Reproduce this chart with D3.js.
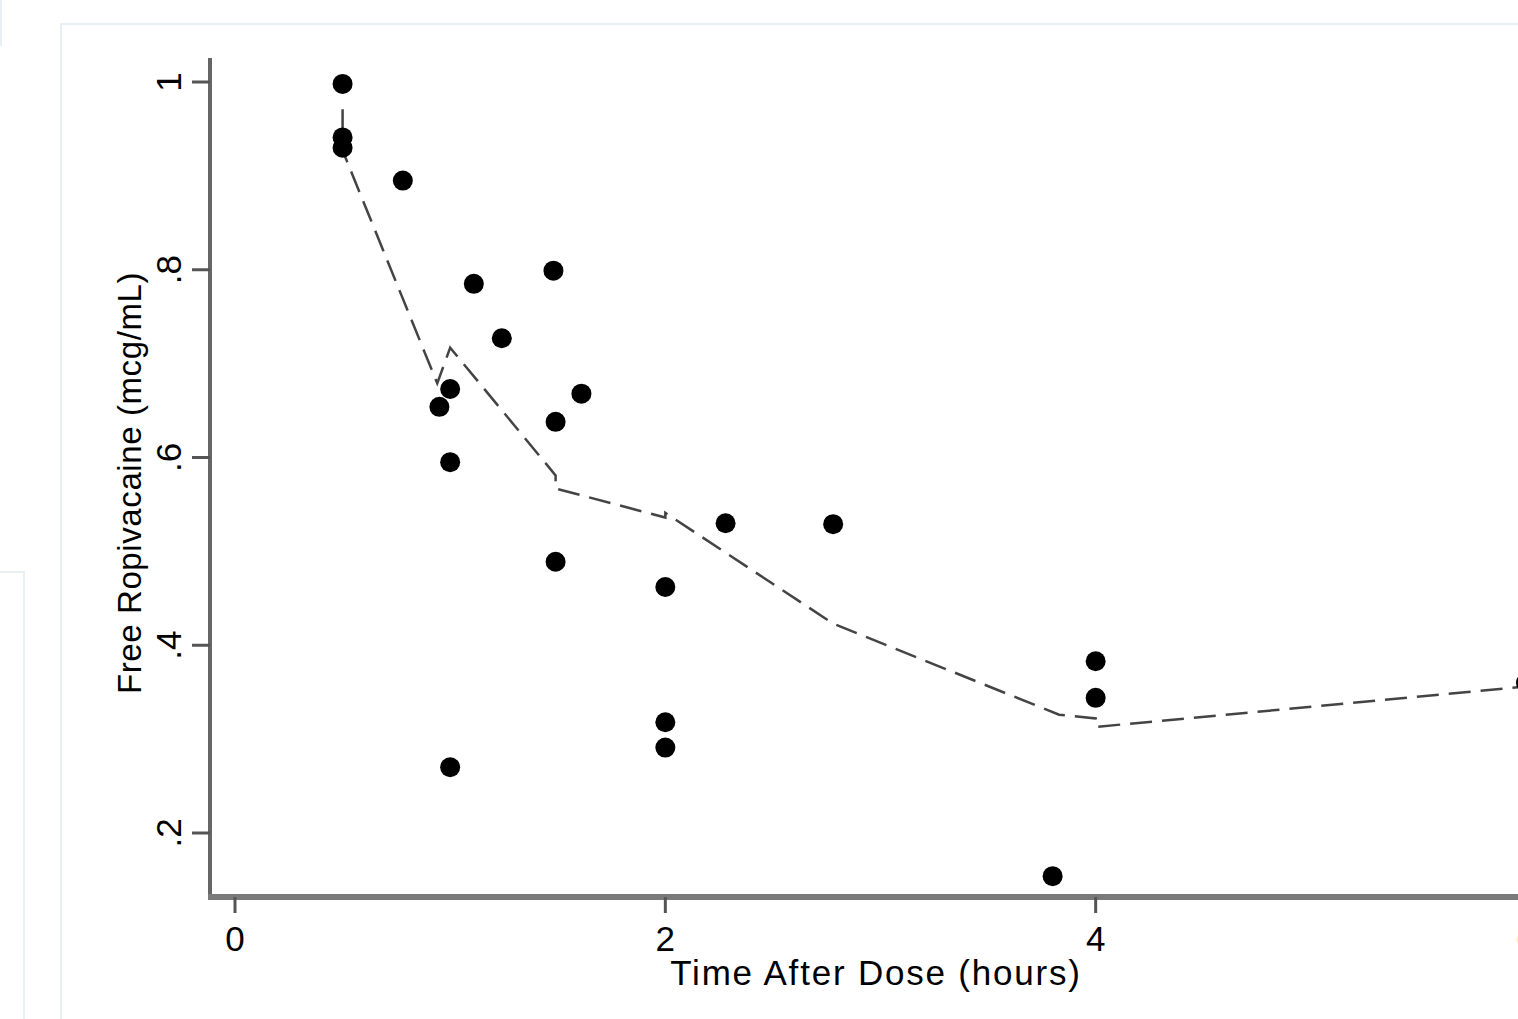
<!DOCTYPE html>
<html>
<head>
<meta charset="utf-8">
<script src="https://cdn.jsdelivr.net/npm/d3@7"></script>
<style>
  html, body { margin: 0; padding: 0; background: #fff; overflow: hidden; }
  svg { display: block; }
  text { font-family: "Liberation Sans", Arial, sans-serif; fill: #000; }
</style>
</head>
<body>
<div id="chart"></div>
<script>
// observed points: time after dose (hours), free ropivacaine (mcg/mL)
const timeHours = [0.5, 0.5, 0.5, 0.78, 0.95, 1.0, 1.0, 1.0, 1.11, 1.24, 1.48, 1.49, 1.49, 1.61,
                   2.0, 2.0, 2.0, 2.28, 2.78, 3.8, 4.0, 4.0, 6.0];
const freeRopi = [0.998, 0.941, 0.930, 0.895, 0.654, 0.673, 0.595, 0.270, 0.785, 0.727, 0.799, 0.638, 0.489, 0.668,
                  0.462, 0.318, 0.291, 0.530, 0.529, 0.154, 0.383, 0.344, 0.36];

// fitted (dashed) curve
const fitTime = [0.5, 0.5, 0.94, 1.0, 1.49, 1.49, 2.0, 2.0, 2.78, 3.83, 4.0, 4.0, 6.0];
const fitValue = [0.971, 0.927, 0.679, 0.717, 0.581, 0.567, 0.536, 0.541, 0.423, 0.326, 0.322, 0.313, 0.356];

const xTicks = [0, 2, 4, 6];
const yTicks = [0.2, 0.4, 0.6, 0.8, 1];
const yTickLabels = ['.2', '.4', '.6', '.8', '1'];

const width = 1518;
const height = 1019;

const svg = d3.select('#chart')
    .append('svg')
    .attr('width', width)
    .attr('height', height);

// faint page panels behind the graph
const panelColor = '#e9f0f3';
svg.append('rect').attr('x', -10).attr('y', -10).attr('width', 11).attr('height', 55)
    .attr('fill', 'none').attr('stroke', panelColor).attr('stroke-width', 2);
svg.append('rect').attr('x', -10).attr('y', 572).attr('width', 34).attr('height', 500)
    .attr('fill', 'none').attr('stroke', panelColor).attr('stroke-width', 2);
svg.append('rect').attr('x', 61).attr('y', 24).attr('width', 1500).attr('height', 1100)
    .attr('fill', '#fff').attr('stroke', panelColor).attr('stroke-width', 2);

const x = d3.scaleLinear().domain([0, 6]).range([235, 1526]);
const y = d3.scaleLinear().domain([0.2, 1]).range([833, 82]);

const axisX = 210;
const axisY = 897;

// y axis
const yAxis = svg.append('g').attr('transform', `translate(${axisX},0)`);
yAxis.append('line')
    .attr('x1', 0).attr('x2', 0).attr('y1', 58).attr('y2', axisY + 2)
    .attr('stroke', '#666').attr('stroke-width', 4);
yAxis.selectAll('.tick')
    .data(yTicks)
    .join('line')
    .attr('x1', -18).attr('x2', 0)
    .attr('y1', d => y(d)).attr('y2', d => y(d))
    .attr('stroke', '#555').attr('stroke-width', 3);
yAxis.selectAll('.lbl')
    .data(yTicks)
    .join('text')
    .attr('transform', d => `translate(-29,${y(d)}) rotate(-90)`)
    .attr('text-anchor', 'middle')
    .attr('font-size', 35)
    .text((d, i) => yTickLabels[i]);

// x axis
const xAxis = svg.append('g').attr('transform', `translate(0,${axisY})`);
xAxis.append('line')
    .attr('x1', axisX - 2).attr('x2', width + 20).attr('y1', 0).attr('y2', 0)
    .attr('stroke', '#7a7a7a').attr('stroke-width', 6);
xAxis.selectAll('.tick')
    .data(xTicks)
    .join('line')
    .attr('x1', d => x(d)).attr('x2', d => x(d))
    .attr('y1', 0).attr('y2', 16)
    .attr('stroke', '#555').attr('stroke-width', 3);
xAxis.selectAll('.lbl')
    .data(xTicks)
    .join('text')
    .attr('x', d => x(d))
    .attr('y', 54)
    .attr('text-anchor', 'middle')
    .attr('font-size', 35)
    .text(d => d);

// axis titles
svg.append('text')
    .attr('x', 876)
    .attr('y', 985)
    .attr('text-anchor', 'middle')
    .attr('font-size', 35)
    .attr('letter-spacing', 1.8)
    .text('Time After Dose (hours)');

svg.append('text')
    .attr('transform', 'translate(141,483) rotate(-90)')
    .attr('text-anchor', 'middle')
    .attr('font-size', 33)
    .attr('letter-spacing', 0.6)
    .text('Free Ropivacaine (mcg/mL)');

// dashed fitted line
const fit = fitTime.map((t, i) => [t, fitValue[i]]);
svg.append('path')
    .datum(fit)
    .attr('fill', 'none')
    .attr('stroke', '#444')
    .attr('stroke-width', 2.5)
    .attr('stroke-dasharray', '22,10')
    .attr('d', d3.line().x(d => x(d[0])).y(d => y(d[1])));

// points
const pts = timeHours.map((t, i) => [t, freeRopi[i]]);
svg.append('g')
    .selectAll('circle')
    .data(pts)
    .join('circle')
    .attr('cx', d => x(d[0]))
    .attr('cy', d => y(d[1]))
    .attr('r', 10)
    .attr('fill', '#000');
</script>
</body>
</html>
